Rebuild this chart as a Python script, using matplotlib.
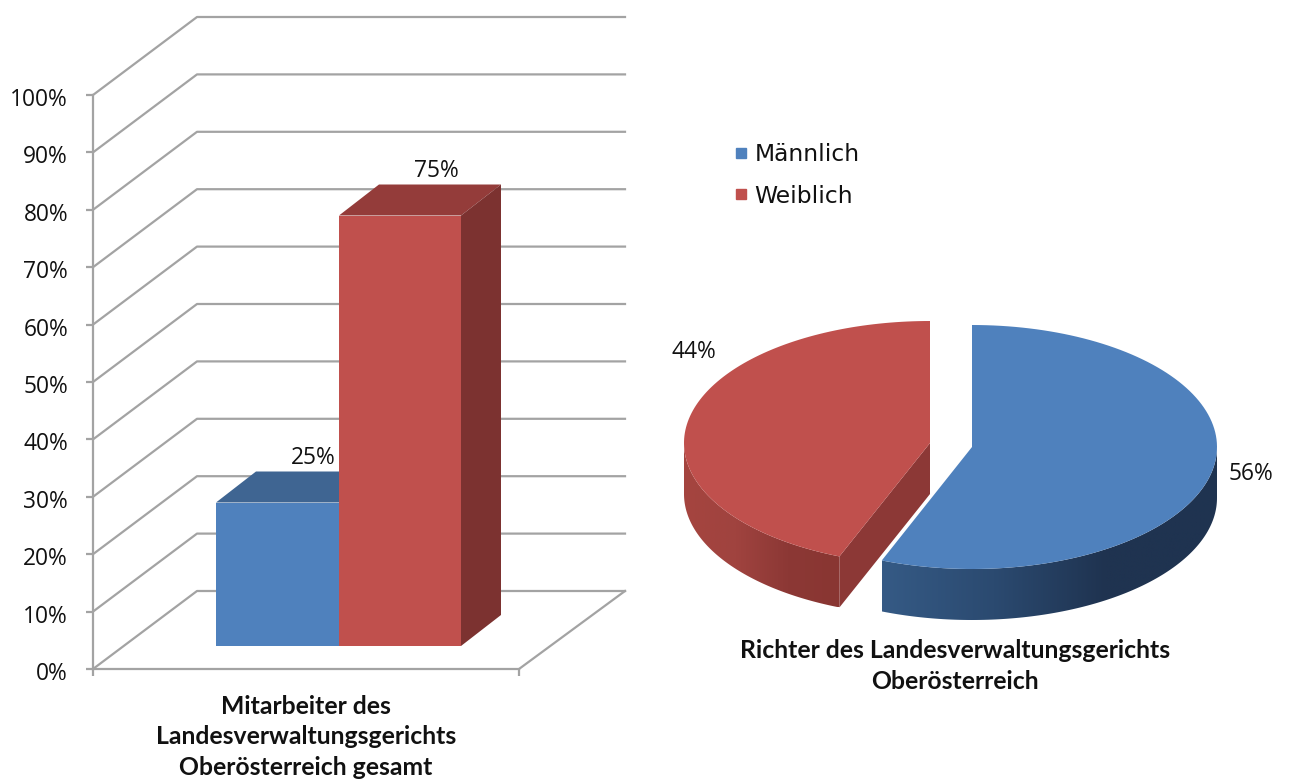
import numpy as np
import matplotlib
matplotlib.use("Agg")
import matplotlib.pyplot as plt
from matplotlib.colors import LinearSegmentedColormap
from matplotlib.lines import Line2D
from matplotlib.patches import Polygon
from matplotlib.transforms import ScaledTranslation

# Datos
groups = ["Männlich", "Weiblich"]
staff_values = [25, 75]
judge_values = [56, 44]
y_ticks = [0, 10, 20, 30, 40, 50, 60, 70, 80, 90, 100]
staff_title = "Mitarbeiter des\nLandesverwaltungsgerichts\nOberösterreich gesamt"
judge_title = "Richter des Landesverwaltungsgerichts\nOberösterreich"

# Colores
BLUE = "#4f81bd"
RED = "#c0504d"
GRID = "#a3a3a3"
INK = "#111111"
LABEL_FONT = "Open Sans"
W, H = 1290, 782

fig = plt.figure(figsize=(W / 100, H / 100), dpi=100)

# Capa en pixeles para la torta y la leyenda
ax = fig.add_axes([0, 0, 1, 1])
ax.set_xlim(0, W)
ax.set_ylim(H, 0)
ax.axis("off")

# Barras: eje frontal de x=93 a 519, y=669 a 95 (x en pixeles, y en %)
bx = fig.add_axes([93 / W, (H - 669) / H, 426 / W, 574 / H])
bx.patch.set_visible(False)
bx.set_xlim(0, 426)
bx.set_ylim(0, 100)
unit = 574 / 100
depth_x, depth_y = 104, 78 / unit
x_end = 532

for v in y_ticks:
    bx.plot([0, depth_x, x_end], [v, v + depth_y, v + depth_y],
            color=GRID, lw=1.6, clip_on=False, zorder=1)
bx.plot([426, x_end], [0, depth_y], color=GRID, lw=1.6, clip_on=False, zorder=1)

bx.set_yticks(y_ticks)
bx.set_yticklabels([f"{v}%" for v in y_ticks], fontsize=16.4, color=INK, family=LABEL_FONT)
bx.set_xticks([0, 426])
bx.set_xticklabels([])
bx.tick_params(color=GRID, width=1.6, length=5, pad=13)
shift = ScaledTranslation(0, -1.5 / 72, fig.dpi_scale_trans)
for lab in bx.get_yticklabels():
    lab.set_transform(lab.get_transform() + shift)
for s in ["top", "right"]:
    bx.spines[s].set_visible(False)
for s in ["left", "bottom"]:
    bx.spines[s].set_color(GRID)
    bx.spines[s].set_linewidth(1.6)

# Barras en pseudo 3D
bar_left = [123, 246]
bar_width = [123, 122]
floor = 23 / unit
bar_dx, bar_dy = 40, 31 / unit
fronts = [BLUE, RED]
tops = ["#3f6592", "#943c3a"]
sides = ["#33527a", "#7c3230"]
for left, w, v, fc, tc, sc in zip(bar_left, bar_width, staff_values, fronts, tops, sides):
    top = floor + v
    bx.add_patch(Polygon([(left, top), (left + bar_dx, top + bar_dy),
                          (left + w + bar_dx, top + bar_dy), (left + w, top)],
                         fc=tc, ec="none", zorder=3, clip_on=False))
    bx.add_patch(Polygon([(left + w, floor), (left + w + bar_dx, floor + bar_dy),
                          (left + w + bar_dx, top + bar_dy), (left + w, top)],
                         fc=sc, ec="none", zorder=3, clip_on=False))
    bx.bar(left, v, w, bottom=floor, align="edge", color=fc, zorder=4)
    bx.text(left + w / 2 + 36, top + bar_dy + 0.3, f"{v}%", ha="center", va="bottom",
            fontsize=16.4, color=INK, zorder=5, family=LABEL_FONT)


# Torta en pseudo 3D
def rim(cx, cy, start, end, rx=245, ry=122, n=120):
    # angulos medidos desde arriba en sentido horario
    th = np.radians(np.linspace(start, end, n))
    return np.column_stack([cx + rx * np.sin(th), cy - ry * np.cos(th)])


def shaded(points, colors):
    patch = Polygon(points, fc="none", ec="none", transform=ax.transData)
    ax.add_patch(patch)
    cmap = LinearSegmentedColormap.from_list("side", colors)
    x0, x1 = points[:, 0].min(), points[:, 0].max()
    y0, y1 = points[:, 1].min(), points[:, 1].max()
    im = ax.imshow(np.linspace(0, 1, 256).reshape(1, -1), cmap=cmap, aspect="auto",
                   extent=[x0, x1, y1, y0], zorder=2)
    im.set_clip_path(patch)


cut = judge_values[0] / sum(judge_values) * 360
depth = 51

# Rebanada azul
cx, cy = 972, 447
edge = rim(cx, cy, 90, cut)
side = np.vstack([edge, (edge + [0, depth])[::-1]])
shaded(side, ["#355a85", "#2b4a70", "#1f3350", "#1f3350"])
ax.add_patch(Polygon(np.vstack([[(cx, cy)], rim(cx, cy, 0, cut)]), fc=BLUE, ec="none", zorder=3))

# Rebanada roja
cx2, cy2 = 930, 443
edge = rim(cx2, cy2, cut, 270, rx=246)
side = np.vstack([edge, (edge + [0, depth])[::-1]])
shaded(side, ["#a5453f", "#a0433f", "#8c3835", "#893632"])
p = rim(cx2, cy2, cut, cut, rx=246)[0]
ax.add_patch(Polygon([(cx2, cy2), (cx2, cy2 + depth), p + [0, depth], p],
                     fc="#8c3836", ec="none", zorder=3))
ax.add_patch(Polygon(np.vstack([[(cx2, cy2)], rim(cx2, cy2, cut, 360, rx=246)]), fc=RED, ec="none", zorder=4))

ax.set_xlim(0, W)
ax.set_ylim(H, 0)

ax.text(1251, 474, f"{judge_values[0]}%", ha="center", va="center", fontsize=16.4, color=INK, family=LABEL_FONT)
ax.text(694, 352, f"{judge_values[1]}%", ha="center", va="center", fontsize=16.4, color=INK, family=LABEL_FONT)

# Titulos
ax.text(306, 737, staff_title, ha="center", va="center", family="Lato", weight="bold",
        fontsize=17.8, linespacing=1.38, color=INK)
ax.text(955, 666, judge_title, ha="center", va="center", family="Lato", weight="bold",
        fontsize=17.8, linespacing=1.4, color=INK)

# Leyenda
handles = [Line2D([], [], marker="s", ls="none", ms=6.8, color=c) for c in fronts]
ax.legend(handles, groups, loc="upper left", bbox_to_anchor=(729, 143), bbox_transform=ax.transData,
          frameon=False, fontsize=16.8, labelspacing=0.8, handletextpad=0.1, handlelength=1.0,
          borderpad=0, borderaxespad=0, labelcolor=INK)

plt.savefig("out.png", dpi=100)
